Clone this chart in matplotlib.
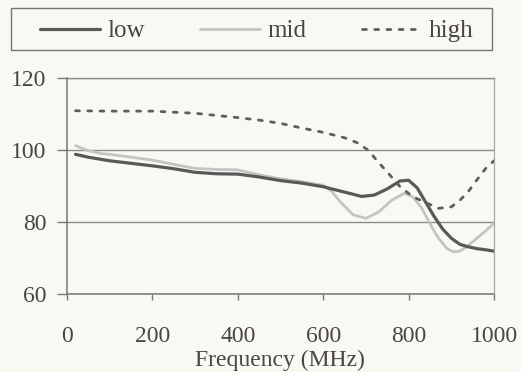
import matplotlib
matplotlib.use("Agg")
import matplotlib.pyplot as plt
from matplotlib.patches import Rectangle

plt.rcParams['font.family'] = ['Liberation Serif', 'DejaVu Serif']

# Measured response vs frequency for three settings
freq_low = [20, 50, 100, 150, 200, 250, 300, 350, 400, 450, 500, 550, 600, 650, 690,
            720, 750, 780, 800, 820, 840, 860, 880, 900, 920, 940, 960, 980, 1000]
val_low = [98.8, 98.0, 97.0, 96.3, 95.6, 94.8, 93.8, 93.4, 93.3, 92.5, 91.5, 90.8, 89.8,
           88.3, 87.1, 87.5, 89.2, 91.4, 91.6, 89.5, 85.5, 81.5, 78.0, 75.5, 73.8, 73.1,
           72.6, 72.3, 71.9]

freq_mid = [20, 50, 80, 100, 150, 200, 250, 300, 350, 400, 450, 500, 550, 600, 620, 640,
            670, 700, 730, 760, 790, 810, 830, 850, 870, 890, 905, 920, 935, 960, 980, 1000]
val_mid = [101.2, 99.8, 99.0, 98.8, 98.0, 97.2, 96.0, 94.9, 94.6, 94.5, 93.1, 92.0, 91.2,
           90.2, 88.5, 85.6, 82.0, 81.0, 82.8, 86.0, 88.0, 87.0, 84.0, 79.5, 75.5, 72.6,
           71.7, 71.9, 73.0, 75.5, 77.5, 79.6]

freq_high = [20, 100, 200, 300, 400, 450, 500, 550, 600, 650, 680, 705, 730, 755, 780,
             810, 840, 870, 900, 920, 940, 960, 980, 1000]
val_high = [110.9, 110.8, 110.8, 110.2, 109.0, 108.3, 107.4, 106.1, 104.9, 103.4, 102.0,
            100.0, 96.5, 93.2, 89.8, 87.0, 85.4, 83.8, 84.2, 86.0, 88.5, 91.7, 94.8, 97.0]

series_names = ["low", "mid", "high"]
x_ticks = [0, 200, 400, 600, 800, 1000]
y_ticks = [60, 80, 100, 120]

W, H = 521, 372
bg = '#f9f9f4'
text_col = '#4a4444'
grid_col = '#8a8a8a'

fig = plt.figure(figsize=(W / 100, H / 100), dpi=100, facecolor=bg)
ax = fig.add_axes([67 / W, 1 - 294 / H, 427 / W, 216 / H])
ax.set_facecolor(bg)

l1, = ax.plot(freq_low, val_low, color='#5c5858', lw=2.3, solid_capstyle='round',
              label=series_names[0], zorder=3)
l2, = ax.plot(freq_mid, val_mid, color='#c4c4c4', lw=2.0, solid_capstyle='round',
              label=series_names[1], zorder=2)
l3, = ax.plot(freq_high, val_high, color='#625c5c', lw=2.0, linestyle=(0, (1.4, 3.0)),
              dash_capstyle='round', label=series_names[2], zorder=4)

ax.set_xlim(0, 1000)
ax.set_ylim(60, 120)
ax.set_xticks(x_ticks)
ax.set_yticks(y_ticks)
ax.yaxis.grid(True, color=grid_col, lw=1.0)
ax.set_axisbelow(True)

for side in ['left', 'bottom']:
    ax.spines[side].set_color('#7a7676')
    ax.spines[side].set_linewidth(1.1)
ax.spines['right'].set_color('#a8a8a8')
ax.spines['right'].set_linewidth(0.9)
ax.spines['top'].set_color(grid_col)
ax.spines['top'].set_linewidth(1.0)

ax.tick_params(axis='y', direction='out', length=7, width=1.0, color='#7a7676',
               labelsize=17, labelcolor=text_col, pad=8)
ax.tick_params(axis='x', direction='out', length=4, width=1.0, color='#7a7676',
               labelsize=17, labelcolor=text_col, pad=19)

ax.set_xlabel("Frequency (MHz)", fontsize=17, color=text_col)
ax.xaxis.set_label_coords(0.499, (294 - 350) / 216)

# Legend strip across the top with its own box
fig.patches.append(Rectangle((11 / W, 1 - 50 / H), 481 / W, 42 / H,
                             transform=fig.transFigure, facecolor=bg,
                             edgecolor='#7a7070', linewidth=1.0, zorder=0))
leg = fig.legend(handles=[l1, l2, l3], labels=series_names, ncol=3,
                 bbox_to_anchor=(40 / W, 1 - 31 / H), loc='center left',
                 borderaxespad=0, borderpad=0, fontsize=18, handlelength=2.4,
                 handletextpad=0.3, columnspacing=2.2, frameon=False,
                 labelcolor=text_col)

fig.savefig("out.png", dpi=100, facecolor=bg)
